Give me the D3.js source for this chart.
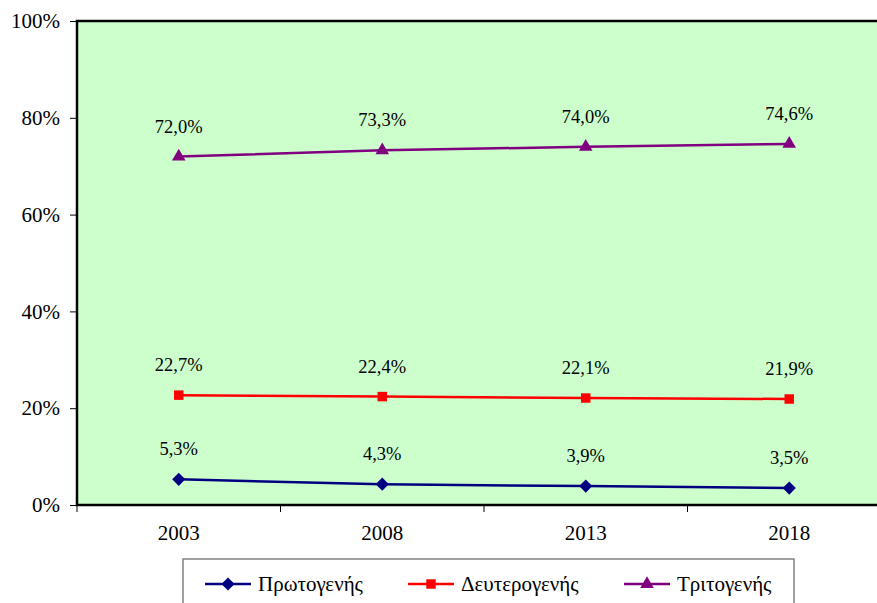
<!DOCTYPE html>
<html>
<head>
<meta charset="utf-8">
<script src="https://cdn.jsdelivr.net/npm/d3@7"></script>
<style>
  body { margin: 0; background: #fff; }
  text { font-family: "Liberation Serif", "Times New Roman", serif; fill: #000; }
</style>
</head>
<body>
<svg width="877" height="603"></svg>
<script>
// Έτη και ποσοστά ανά τομέα
const years = ["2003", "2008", "2013", "2018"];
const primary = [5.3, 4.3, 3.9, 3.5];
const secondary = [22.7, 22.4, 22.1, 21.9];
const tertiary = [72.0, 73.3, 74.0, 74.6];
const yTicks = [0, 20, 40, 60, 80, 100];

const series = [
  { name: "Πρωτογενής", values: primary, color: "#000080", symbol: d3.symbolDiamond2, size: 110 },
  { name: "Δευτερογενής", values: secondary, color: "#ff0000", symbol: d3.symbolSquare, size: 90 },
  { name: "Τριτογενής", values: tertiary, color: "#800080", symbol: d3.symbolTriangle, size: 80 }
];

const svg = d3.select("svg");
const plotL = 77, plotT = 21, plotB = 505, plotR = 891;

const x = d3.scaleBand().domain(years).range([plotL, plotR]);
const y = d3.scaleLinear().domain([0, 100]).range([plotB, plotT]);

// περιοχή σχεδίασης
svg.append("rect")
  .attr("x", plotL).attr("y", plotT)
  .attr("width", plotR - plotL).attr("height", plotB - plotT)
  .attr("fill", "#ccffcc")
  .attr("stroke", "#000").attr("stroke-width", 2.5);

// άξονας Y
const yAxis = svg.append("g")
  .attr("transform", `translate(${plotL},0)`)
  .call(d3.axisLeft(y).tickValues(yTicks).tickSize(7).tickPadding(10).tickFormat(d => d + "%"));
yAxis.select(".domain").remove();
yAxis.selectAll("line").attr("stroke", "#000");
yAxis.selectAll("text").attr("font-size", 21).attr("font-family", "Liberation Serif").attr("fill", "#000");

// άξονας X
const xAxis = svg.append("g")
  .attr("transform", `translate(0,${plotB})`)
  .call(d3.axisBottom(x).tickSize(0).tickPadding(20));
xAxis.select(".domain").remove();
xAxis.selectAll("text").attr("font-size", 21).attr("font-family", "Liberation Serif").attr("fill", "#000");

// υποδιαιρέσεις μεταξύ κατηγοριών
svg.append("g").selectAll("line")
  .data(years)
  .enter().append("line")
  .attr("x1", d => x(d)).attr("x2", d => x(d))
  .attr("y1", plotB).attr("y2", plotB + 7)
  .attr("stroke", "#000");

const cx = d => x(d) + x.bandwidth() / 2;
const fmt = v => v.toFixed(1).replace(".", ",") + "%";

series.forEach(s => {
  const pts = years.map((yr, i) => [cx(yr), y(s.values[i])]);
  svg.append("path")
    .attr("d", d3.line()(pts))
    .attr("fill", "none")
    .attr("stroke", s.color)
    .attr("stroke-width", 2.5);

  svg.append("g").selectAll("path")
    .data(pts)
    .enter().append("path")
    .attr("d", d3.symbol().type(s.symbol).size(s.size))
    .attr("transform", d => `translate(${d[0]},${d[1]})`)
    .attr("fill", s.color);

  svg.append("g").selectAll("text")
    .data(s.values)
    .enter().append("text")
    .attr("x", (d, i) => cx(years[i]))
    .attr("y", d => y(d) - 24)
    .attr("text-anchor", "middle")
    .attr("font-size", 18.5)
    .text(fmt);
});

// υπόμνημα
const legend = svg.append("g");
legend.append("rect")
  .attr("x", 183).attr("y", 559)
  .attr("width", 611).attr("height", 60)
  .attr("fill", "#fff")
  .attr("stroke", "#808080").attr("stroke-width", 1.5);

const legendX = [205, 408, 624];
series.forEach((s, i) => {
  const g = legend.append("g").attr("transform", `translate(${legendX[i]},584)`);
  g.append("line")
    .attr("x1", 0).attr("x2", 46)
    .attr("stroke", s.color).attr("stroke-width", 2.5);
  g.append("path")
    .attr("d", d3.symbol().type(s.symbol).size(s.size))
    .attr("transform", "translate(23,0)")
    .attr("fill", s.color);
  g.append("text")
    .attr("x", 53).attr("y", 7)
    .attr("font-size", 21)
    .text(s.name);
});
</script>
</body>
</html>
